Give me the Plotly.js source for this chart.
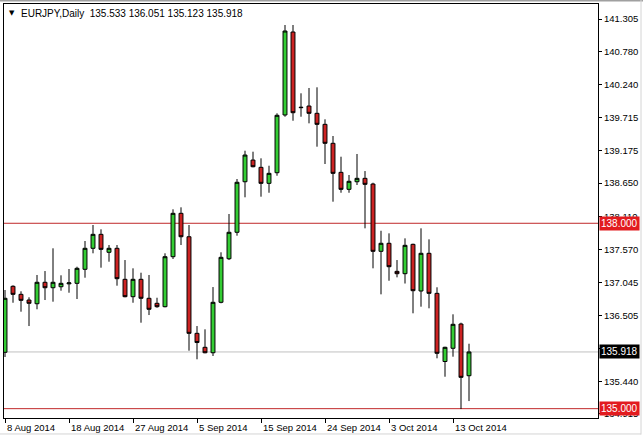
<!DOCTYPE html>
<html>
<head>
<meta charset="utf-8">
<script src="https://cdn.plot.ly/plotly-3.0.1.min.js"></script>
<style>
html,body{margin:0;padding:0;background:#fff;}
#chart{width:643px;height:438px;}
</style>
</head>
<body>
<div id="chart"></div>
<script>
// Daily EURJPY bars (broker with Sunday sessions)
const dates = ['2014-08-08','2014-08-10','2014-08-11','2014-08-12','2014-08-13','2014-08-14','2014-08-15','2014-08-17','2014-08-18','2014-08-19',
'2014-08-20','2014-08-21','2014-08-22','2014-08-24','2014-08-25','2014-08-26','2014-08-27','2014-08-28','2014-08-29','2014-08-31',
'2014-09-01','2014-09-02','2014-09-03','2014-09-04','2014-09-05','2014-09-07','2014-09-08','2014-09-09','2014-09-10','2014-09-11',
'2014-09-12','2014-09-14','2014-09-15','2014-09-16','2014-09-17','2014-09-18','2014-09-19','2014-09-21','2014-09-22','2014-09-23',
'2014-09-24','2014-09-25','2014-09-26','2014-09-28','2014-09-29','2014-09-30','2014-10-01','2014-10-02','2014-10-03','2014-10-05',
'2014-10-06','2014-10-07','2014-10-08','2014-10-09','2014-10-10','2014-10-12','2014-10-13','2014-10-14','2014-10-15'];

const opens = [135.912,136.980,136.850,136.758,136.698,137.045,136.957,136.973,137.020,137.028,
137.255,137.595,137.821,137.530,137.595,137.093,136.812,137.093,136.786,136.705,
136.650,137.459,138.161,137.782,136.219,135.993,135.905,136.721,137.426,137.854,
138.672,139.023,138.905,138.646,138.818,139.752,141.095,139.870,139.897,139.779,
139.601,139.294,138.824,138.549,138.672,138.727,138.635,137.546,137.676,137.222,
137.184,137.659,136.904,137.514,136.866,135.763,135.977,136.370,135.533];

const highs = [136.920,136.996,136.899,136.802,137.163,137.227,137.595,137.158,137.260,137.297,
137.713,137.972,137.902,137.648,137.648,137.405,137.271,137.200,137.163,136.795,
137.514,138.226,138.258,137.972,136.337,136.284,136.968,137.530,138.150,138.716,
139.174,139.158,139.051,138.931,139.779,141.208,141.208,140.103,140.189,140.200,
139.682,139.412,139.077,138.781,139.121,138.845,138.656,137.879,137.837,137.405,
137.756,137.670,137.918,137.740,136.964,136.002,136.527,136.391,136.051];

const lows = [135.836,136.714,136.569,136.337,136.608,136.758,136.731,136.909,136.876,136.774,
137.119,137.514,137.281,137.378,136.990,136.802,136.714,136.391,136.515,136.633,
136.640,137.422,137.648,135.938,135.799,135.896,135.852,136.705,137.405,137.799,
138.420,138.905,138.430,138.494,138.769,139.724,139.659,139.724,139.617,139.239,
138.959,138.349,138.494,138.494,138.619,137.918,137.271,136.850,137.070,137.125,
137.025,136.543,136.650,136.624,135.815,135.517,135.841,134.994,135.123];

const closes = [136.786,136.850,136.753,136.705,137.045,136.957,137.045,137.028,137.035,137.271,
137.595,137.821,137.578,137.595,137.103,136.812,137.093,136.786,136.608,136.650,
137.459,138.161,137.782,136.219,136.070,135.905,136.721,137.449,137.854,138.663,
139.104,138.915,138.646,138.808,139.747,141.111,139.789,139.876,139.779,139.601,
139.294,138.808,138.549,138.679,138.727,138.630,137.546,137.676,137.297,137.184,
137.643,136.909,137.514,136.866,135.896,135.993,136.365,135.507,135.918];

const tickDates  = ['2014-08-08','2014-08-18','2014-08-27','2014-09-05','2014-09-15','2014-09-24','2014-10-03','2014-10-13'];
const tickLabels = ['8 Aug 2014','18 Aug 2014','27 Aug 2014','5 Sep 2014','15 Sep 2014','24 Sep 2014','3 Oct 2014','13 Oct 2014'];
const yTicks = [141.305,140.780,140.240,139.715,139.175,138.650,138.110,137.570,137.045,136.505,135.980,135.440,134.915];

const redLevels = [138.000, 135.000];
const lastPrice = 135.918;
const header = 'EURJPY,Daily  135.533 136.051 135.123 135.918';

const FONT = 'Liberation Sans, Arial, sans-serif';
const xs = dates.map((d, i) => i);
const tickIdx = tickDates.map(d => dates.indexOf(d));

const trace = {
  type: 'candlestick',
  x: xs, open: opens, high: highs, low: lows, close: closes,
  text: dates, hoverinfo: 'none',
  whiskerwidth: 0,
  increasing: {line: {color: '#000000', width: 1}, fillcolor: '#33cc33'},
  decreasing: {line: {color: '#000000', width: 1}, fillcolor: '#cc2222'}
};

const shapes = [];
redLevels.forEach(v => shapes.push({type: 'line', xref: 'paper', x0: 0, x1: 1, yref: 'y', y0: v, y1: v,
  line: {color: '#c0282a', width: 1}, layer: 'below'}));
shapes.push({type: 'line', xref: 'paper', x0: 0, x1: 1, yref: 'y', y0: lastPrice, y1: lastPrice,
  line: {color: '#c0c0c0', width: 1}, layer: 'below'});
// window chrome lines
shapes.push({type: 'line', xref: 'paper', yref: 'paper', x0: -0.01, x1: 1.08, y0: 1.0085, y1: 1.0085, line: {color: '#a0a0a0', width: 2}});
shapes.push({type: 'line', xref: 'paper', yref: 'paper', x0: 1.0724, x1: 1.0724, y0: -0.04, y1: 1.01, line: {color: '#d4d4d4', width: 1}});
shapes.push({type: 'line', xref: 'paper', yref: 'paper', x0: -0.01, x1: 1.0724, y0: -0.0386, y1: -0.0386, line: {color: '#d4d4d4', width: 1}});

const annotations = [];
tickIdx.forEach((ix, k) => annotations.push({
  x: ix, xref: 'x', y: 0, yref: 'paper', xanchor: 'left', yanchor: 'top', yshift: -2, xshift: 0,
  text: tickLabels[k], showarrow: false, font: {family: FONT, size: 9.5, color: '#000'}
}));
redLevels.forEach(v => annotations.push({
  x: 1, xref: 'paper', y: v, yref: 'y', xanchor: 'left', yanchor: 'middle', xshift: 1,
  text: v.toFixed(3), showarrow: false, bgcolor: '#e21b1f', borderpad: 1,
  font: {family: FONT, size: 10, color: '#fff'}
}));
annotations.push({
  x: 1, xref: 'paper', y: lastPrice, yref: 'y', xanchor: 'left', yanchor: 'middle', xshift: 1,
  text: lastPrice.toFixed(3), showarrow: false, bgcolor: '#000000', borderpad: 1,
  font: {family: FONT, size: 10, color: '#fff'}
});
annotations.push({
  x: 0, xref: 'paper', y: 1, yref: 'paper', xanchor: 'left', yanchor: 'middle', xshift: 15, yshift: -9,
  text: header, showarrow: false, font: {family: FONT, size: 10, color: '#000'}
});
annotations.push({
  x: 0, xref: 'paper', y: 1, yref: 'paper', xanchor: 'left', yanchor: 'middle', xshift: 3, yshift: -9,
  text: '\u25BC', showarrow: false, font: {family: 'DejaVu Sans', size: 7, color: '#000'}
});

const layout = {
  width: 643, height: 438,
  margin: {l: 4, r: 45, t: 4, b: 20},
  paper_bgcolor: '#ffffff', plot_bgcolor: '#ffffff',
  showlegend: false,
  font: {family: FONT, size: 9.5, color: '#000'},
  xaxis: {
    type: 'linear', range: [-0.125, 74.125], fixedrange: true,
    rangeslider: {visible: false},
    tickmode: 'array', tickvals: tickIdx, showticklabels: false,
    ticks: 'outside', ticklen: 4, tickcolor: '#000', tickwidth: 1,
    showgrid: false, zeroline: false,
    showline: true, linecolor: '#000', linewidth: 1, mirror: true
  },
  yaxis: {
    side: 'right', range: [134.849, 141.548], fixedrange: true,
    tickmode: 'array', tickvals: yTicks, ticktext: yTicks.map(v => v.toFixed(3)),
    ticks: 'outside', ticklen: 3, tickcolor: '#000', tickwidth: 1,
    tickfont: {family: FONT, size: 9.5, color: '#000'},
    showgrid: false, zeroline: false,
    showline: true, linecolor: '#000', linewidth: 1, mirror: true
  },
  shapes: shapes,
  annotations: annotations
};

Plotly.newPlot('chart', [trace], layout, {displayModeBar: false, staticPlot: true});
</script>
</body>
</html>
